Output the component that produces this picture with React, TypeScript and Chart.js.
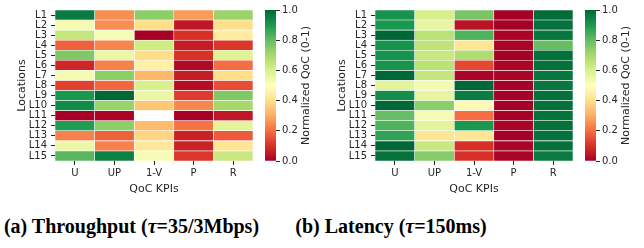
import React, { useEffect, useRef } from "react";
import { Chart, registerables } from "chart.js";
Chart.register(...registerables);

const locations = ["L1", "L2", "L3", "L4", "L5", "L6", "L7", "L8", "L9", "L10", "L11", "L12", "L13", "L14", "L15"];
const kpis = ["U", "UP", "1-V", "P", "R"];
const colorbarTicks = [0, 0.2, 0.4, 0.6, 0.8, 1.0];

// (a) Throughput
const throughputU = [0.96, 0.53, 0.64, 0.18, 0.76, 0.08, 0.53, 0.13, 0.9, 0.93, 0.0, 0.89, 0.23, 0.55, 0.82];
const throughputUP = [0.25, 0.25, 0.52, 0.24, 0.55, 0.23, 0.74, 0.19, 1.0, 0.72, 0.01, 0.74, 0.18, 0.23, 0.95];
const throughputOneMinusV = [0.74, 0.4, 0.0, 0.62, 0.4, 0.45, 0.32, 0.6, 0.55, 0.35, null, 0.33, 0.38, 0.43, 0.52];
const throughputP = [0.27, 0.05, 0.1, 0.06, 0.1, 0.02, 0.06, 0.03, 0.12, 0.24, 0.0, 0.21, 0.07, 0.07, 0.11];
const throughputR = [0.72, 0.4, 0.44, 0.11, 0.58, 0.2, 0.4, 0.15, 0.76, 0.7, 0.05, 0.57, 0.17, 0.42, 0.63];

// (b) Latency
const latencyU = [0.91, 0.9, 1.0, 0.91, 0.91, 0.91, 1.0, 0.57, 0.92, 1.0, 0.8, 0.83, 0.87, 1.0, 0.98];
const latencyUP = [0.6, 0.56, 0.66, 0.65, 0.63, 0.66, 0.64, 0.53, 0.56, 0.74, 0.52, 0.57, 0.42, 0.63, 0.75];
const latencyOneMinusV = [0.77, 0.04, 0.83, 0.42, 0.68, 0.14, 0.01, 1.0, 0.96, 0.48, 0.2, 0.9, 0.42, 0.1, 0.1];
const latencyP = [0.0, 0.0, 0.01, 0.01, 0.0, 0.01, 0.01, 0.0, 0.0, 0.0, 0.0, 0.01, 0.0, 0.01, 0.01];
const latencyR = [0.99, 0.98, 0.97, 0.8, 0.98, 0.98, 0.97, 0.97, 0.98, 0.98, 0.98, 0.98, 0.98, 0.98, 0.96];

const throughputCols = [throughputU, throughputUP, throughputOneMinusV, throughputP, throughputR];
const latencyCols = [latencyU, latencyUP, latencyOneMinusV, latencyP, latencyR];

const RDYLGN = ["#a50026", "#d73027", "#f46d43", "#fdae61", "#fee08b", "#ffffbf", "#d9ef8b", "#a6d96a", "#66bd63", "#1a9850", "#006837"];

function hexToRgb(h: string) {
  return [parseInt(h.slice(1, 3), 16), parseInt(h.slice(3, 5), 16), parseInt(h.slice(5, 7), 16)];
}
function rdylgn(v: number) {
  const t = Math.max(0, Math.min(1, v)) * (RDYLGN.length - 1);
  const i = Math.min(Math.floor(t), RDYLGN.length - 2);
  const f = t - i;
  const a = hexToRgb(RDYLGN[i]);
  const b = hexToRgb(RDYLGN[i + 1]);
  const c = a.map((x, k) => Math.round(x + (b[k] - x) * f));
  return `rgb(${c[0]},${c[1]},${c[2]})`;
}

const FONT = "'DejaVu Sans', sans-serif";
const TXT = "#262626";

function Heatmap({ cols }: { cols: (number | null)[][] }) {
  const ref = useRef<HTMLCanvasElement>(null);
  useEffect(() => {
    const chart = new Chart(ref.current!, {
      type: "bar",
      data: {
        labels: locations,
        datasets: kpis.map((k, j) => ({
          label: k,
          data: locations.map(() => 1),
          backgroundColor: cols[j].map((v) => (v == null ? "#ffffff" : rdylgn(v))),
          borderColor: "#ffffff",
          borderWidth: 0.6,
          borderSkipped: false,
          barPercentage: 1,
          categoryPercentage: 1,
        })),
      },
      options: {
        indexAxis: "y",
        animation: false,
        responsive: false,
        layout: { padding: { top: 10, right: 5, left: 0, bottom: 0 } },
        plugins: { legend: { display: false }, tooltip: { enabled: false } },
        scales: {
          x: {
            type: "linear",
            stacked: true,
            min: 0,
            max: kpis.length,
            afterBuildTicks: (s: any) => {
              s.ticks = kpis.map((_, i) => ({ value: i + 0.5 }));
            },
            afterFit: (s: any) => {
              s.height = 39;
            },
            ticks: {
              autoSkip: false,
              maxRotation: 0,
              padding: 2,
              color: TXT,
              font: { family: FONT, size: 10 },
              callback: (v: any) => kpis[Math.floor(Number(v))],
            },
            grid: { drawOnChartArea: false, tickLength: 4, color: TXT, tickWidth: 1 },
            border: { display: false },
            title: { display: true, text: "QoC KPIs", color: TXT, font: { family: FONT, size: 11 }, padding: { top: 0, bottom: 4 } },
          },
          y: {
            type: "category",
            stacked: true,
            afterFit: (s: any) => {
              s.width = 55;
            },
            ticks: { autoSkip: false, padding: 4, color: TXT, font: { family: FONT, size: 10 } },
            grid: { offset: false, drawOnChartArea: false, tickLength: 4, color: TXT },
            border: { display: false },
            title: { display: true, text: "Locations", color: TXT, font: { family: FONT, size: 11 }, padding: { top: 16, bottom: 0 } },
          },
        },
      } as any,
    });
    return () => chart.destroy();
  }, [cols]);
  return <canvas ref={ref} width={258} height={200} style={{ position: "absolute", left: 0, top: 0, width: 258, height: 200 }} />;
}

const cbTitlePlugin = {
  id: "cbTitle",
  afterDraw(chart: any) {
    const ctx = chart.ctx;
    const area = chart.chartArea;
    ctx.save();
    ctx.translate(48, (area.top + area.bottom) / 2);
    ctx.rotate(-Math.PI / 2);
    ctx.font = `11px ${FONT}`;
    ctx.fillStyle = TXT;
    ctx.textAlign = "center";
    ctx.textBaseline = "middle";
    ctx.fillText("Normalized QoC (0-1)", 0, 0);
    ctx.restore();
  },
};

function Colorbar() {
  const ref = useRef<HTMLCanvasElement>(null);
  useEffect(() => {
    const chart = new Chart(ref.current!, {
      type: "bar",
      data: {
        labels: ["c"],
        datasets: [
          {
            data: [[0, 1]],
            backgroundColor: (c: any) => {
              const area = c.chart.chartArea;
              if (!area) return "#ffffbf";
              const g = c.chart.ctx.createLinearGradient(0, area.bottom, 0, area.top);
              RDYLGN.forEach((col, i) => g.addColorStop(i / (RDYLGN.length - 1), col));
              return g;
            },
            borderWidth: 0,
            barPercentage: 1,
            categoryPercentage: 1,
          },
        ],
      },
      options: {
        animation: false,
        responsive: false,
        layout: { padding: { top: 10, left: 7, right: 0, bottom: 39 } },
        plugins: { legend: { display: false }, tooltip: { enabled: false } },
        scales: {
          x: { display: false },
          y: {
            position: "right",
            min: 0,
            max: 1,
            afterFit: (s: any) => {
              s.width = 46;
            },
            afterBuildTicks: (s: any) => {
              s.ticks = colorbarTicks.map((v) => ({ value: v }));
            },
            ticks: { padding: 2, color: TXT, font: { family: FONT, size: 10 }, callback: (v: any) => Number(v).toFixed(1) },
            grid: { drawOnChartArea: false, tickLength: 4, color: TXT },
            border: { display: false },
          },
        },
      } as any,
      plugins: [cbTitlePlugin],
    });
    return () => chart.destroy();
  }, []);
  return <canvas ref={ref} width={64} height={200} style={{ position: "absolute", left: 258, top: 0, width: 64, height: 200 }} />;
}

function Panel({ cols, left }: { cols: (number | null)[][]; left: number }) {
  return (
    <div style={{ position: "absolute", left, top: 0, width: 322, height: 200 }}>
      <Heatmap cols={cols} />
      <Colorbar />
    </div>
  );
}

const captionStyle: React.CSSProperties = {
  position: "absolute",
  top: 216,
  fontFamily: "'Liberation Serif', 'DejaVu Serif', serif",
  fontWeight: "bold",
  fontSize: 20,
  lineHeight: "20px",
  whiteSpace: "nowrap",
  color: "#000",
  textAlign: "center",
};

export default function App() {
  return (
    <div style={{ position: "relative", width: 644, height: 248, background: "#fff", overflow: "hidden" }}>
      <style>{`body{margin:0}`}</style>
      <Panel cols={throughputCols} left={0} />
      <Panel cols={latencyCols} left={320} />
      <div style={{ ...captionStyle, left: 0, width: 263 }}>
        (a) Throughput (<i>τ</i>=35/3Mbps)
      </div>
      <div style={{ ...captionStyle, left: 291, width: 200 }}>
        (b) Latency (<i>τ</i>=150ms)
      </div>
    </div>
  );
}
